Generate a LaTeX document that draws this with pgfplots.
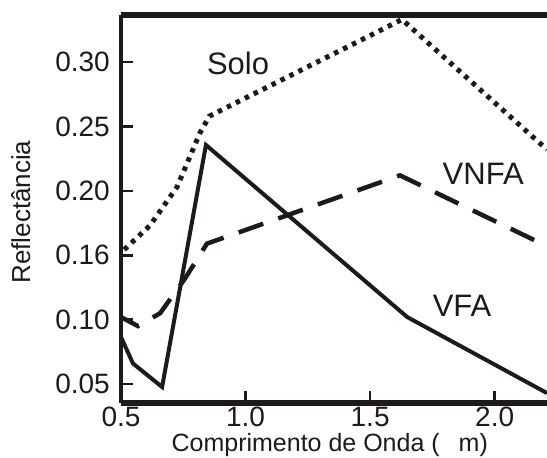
\documentclass[border=0pt]{standalone}
\usepackage{pgfplots}
\pgfplotsset{compat=1.18}
\usepackage{fontspec}
\setmainfont{Liberation Sans}
\definecolor{ink}{RGB}{30,26,26}
\newcommand{\tl}[1]{\mbox{\fontsize{28}{31}\selectfont #1}}
\begin{document}
\begin{tikzpicture}
\begin{axis}[
  scale only axis,
  width=426pt, height=388pt,
  at={(0,0)}, anchor=south west,
  xmin=0.5, xmax=2.21,
  ymin=0.0353, ymax=0.3365,
  axis x line*=box,
  axis y line*=left,
  separate axis lines,
  x axis line style={line width=6pt, -, ink},
  y axis line style={line width=4pt, -, ink},
  xtick pos=bottom,
  ytick pos=left,
  tick align=inside,
  major tick length=12pt,
  tick style={line width=2.6pt, ink},
  xtick={0.5,1.0,1.5,2.0},
  xticklabels={\tl{0.5},\tl{1.0},\tl{1.5},\tl{2.0}},
  ytick={0.05,0.10,0.15,0.20,0.25,0.30},
  yticklabels={\tl{0.05},\tl{0.10},\tl{0.16},\tl{0.20},\tl{0.25},\tl{0.30}},
  xticklabel style={font=\fontsize{28}{31}\selectfont, text=ink, inner sep=0pt, anchor=center, yshift=-14pt},
  yticklabel style={font=\fontsize{28}{31}\selectfont, text=ink, inner sep=0pt, anchor=east, xshift=-11pt},
  xlabel={Comprimento de Onda (\hspace{19pt}m)},
  ylabel={Reflectância},
  xlabel style={font=\fontsize{25}{28}\selectfont, text=ink, inner sep=0pt, at={(axis description cs:0.49,-0.109)}, anchor=center},
  ylabel style={font=\fontsize{26}{29}\selectfont, text=ink, at={(axis description cs:-0.235,0.492)}, anchor=center},
  clip=true,
]
\addplot[ink, line width=5pt, dash pattern=on 4.5pt off 5.5pt] coordinates {
 (0.48,0.150) (0.5,0.152) (0.616,0.173) (0.725,0.203) (0.817,0.245) (0.855,0.258) (1.628,0.333) (2.21,0.232)
};
\addplot[ink, line width=4.5pt, dash pattern=on 26pt off 16pt] coordinates {
 (0.48,0.104) (0.5,0.102) (0.568,0.095) (0.657,0.105) (0.757,0.132) (0.845,0.159) (1.62,0.212) (2.21,0.157)
};
\addplot[ink, line width=4pt, line join=miter] coordinates {
 (0.48,0.092) (0.5,0.0865) (0.548,0.066) (0.665,0.0477) (0.841,0.2356) (1.649,0.102) (2.21,0.043)
};
\node[font=\fontsize{31}{34}\selectfont, text=ink] at (axis cs:0.97,0.299) {Solo};
\node[font=\fontsize{31}{34}\selectfont, text=ink] at (axis cs:1.954,0.213) {VNFA};
\node[font=\fontsize{31}{34}\selectfont, text=ink] at (axis cs:1.869,0.111) {VFA};
\end{axis}
\pgfresetboundingbox
\path (-121pt,-55pt) rectangle (426pt,403pt);
\end{tikzpicture}
\end{document}
